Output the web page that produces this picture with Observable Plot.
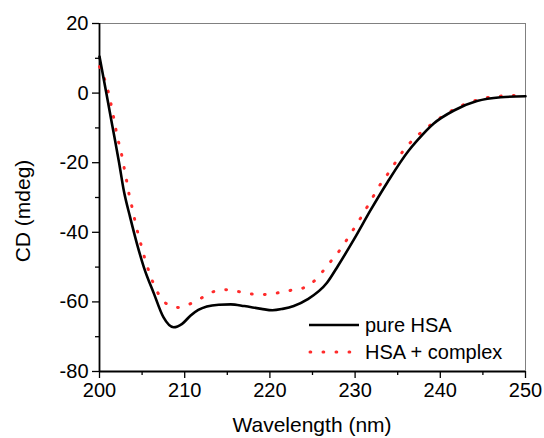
<!DOCTYPE html>
<html>
<head>
<meta charset="utf-8">
<script src="https://cdn.jsdelivr.net/npm/d3@7"></script>
<script src="https://cdn.jsdelivr.net/npm/@observablehq/plot@0.6"></script>
<style>
  html, body { margin: 0; padding: 0; background: white; }
  #chart svg { display: block; }
</style>
</head>
<body>
<div id="chart"></div>
<script>
// pure HSA
const wavelengthHSA = [200.0, 200.8, 201.5, 202.3, 202.85, 203.6, 204.4, 205.2, 206.4, 207.5, 208.7, 209.7, 210.7, 211.6, 212.6, 214.0, 215.4, 217.0, 219.0, 220.3, 221.5, 222.8, 224.4, 226.7, 228.0, 229.9, 231.8, 233.8, 236.3, 237.3, 239.2, 241.6, 244.3, 247.1, 250.0];
const cdHSA =         [10.5,  0.0,   -9.3,  -20.0, -28.0,  -35.7, -43.3, -50.0, -57.7, -64.4, -67.3, -66.3, -63.9, -62.3, -61.3, -60.8, -60.7, -61.2, -62.0, -62.4, -62.0, -61.2, -59.3, -54.5, -49.6, -41.9, -33.7, -25.6, -16.5, -13.6, -8.8,  -5.0,  -2.3,  -1.2,  -0.9];
// HSA + complex
const wavelengthComplex = [200.0, 200.8, 201.2, 201.5, 201.8, 202.1, 202.5, 202.8, 203.1, 203.4, 203.8, 204.4, 204.9, 205.3, 205.8, 206.4, 207.2, 208.5, 209.3, 210.1, 211.6, 213.2, 214.8, 216.2, 217.8, 219.3, 220.9, 222.4, 224.0, 225.5, 226.6, 227.3, 228.4, 229.4, 230.4, 231.3, 232.2, 233.1, 234.2, 235.2, 236.3, 237.7, 239.2, 240.7, 242.3, 243.8, 245.3, 246.9, 248.4, 250.0];
const cdComplex =         [7.6,   2.4,   -1.4,  -5.0,  -8.8,  -12.7, -16.5, -20.3, -24.0, -28.2, -32.6, -39.2, -43.8, -47.4, -51.2, -55.1, -58.8, -61.3, -61.6, -61.1, -59.4, -57.2, -56.5, -57.0, -57.7, -57.9, -57.4, -56.7, -55.9, -53.3, -50.0, -47.9, -44.5, -40.7, -36.9, -33.2, -29.4, -25.7, -22.0, -18.1, -14.7, -11.4, -8.5,  -6.0,  -3.8,  -2.4,  -1.4,  -0.9,  -0.7,  -0.7];

const seriesNames = ["pure HSA", "HSA + complex"];
const xTicks = [200, 210, 220, 230, 240, 250];
const xMinorTicks = [205, 215, 225, 235, 245];
const yTicks = [-80, -60, -40, -20, 0, 20];
const yMinorTicks = [-70, -50, -30, -10, 10];
const xTitle = "Wavelength (nm)";
const yTitle = "CD (mdeg)";

const hsa = wavelengthHSA.map((w, i) => ({w, cd: cdHSA[i]}));
const complex = wavelengthComplex.map((w, i) => ({w, cd: cdComplex[i]}));

const RED = "#ff2b2b";
const FONT = "'Liberation Sans', Arial, sans-serif";
const DASH = "0.8,12.2";

const plot = Plot.plot({
  width: 544,
  height: 438,
  marginLeft: 99,
  marginRight: 19,
  marginTop: 23,
  marginBottom: 67,
  style: {fontFamily: FONT, fontSize: "20px", color: "black", background: "white", overflow: "visible"},
  x: {domain: [200, 250]},
  y: {domain: [-80, 20]},
  marks: [
    Plot.ruleX([250], {stroke: "#808080", strokeWidth: 1}),
    Plot.ruleY([20], {stroke: "#808080", strokeWidth: 1}),
    Plot.axisX(xTicks, {tickSize: 7, tickPadding: 4, label: null, fontSize: 20, strokeWidth: 1.3, tickFormat: d => String(d)}),
    Plot.axisX(xMinorTicks, {tickSize: 4, text: null, label: null, strokeWidth: 1.3}),
    Plot.axisY(yTicks, {tickSize: 7, tickPadding: 4, label: null, fontSize: 20, strokeWidth: 1.3, tickFormat: d => d < 0 ? "-" + Math.abs(d) : String(d)}),
    Plot.axisY(yMinorTicks, {tickSize: 4, text: null, label: null, strokeWidth: 1.3}),
    Plot.ruleX([200], {stroke: "black", strokeWidth: 1.8}),
    Plot.ruleY([-80], {stroke: "black", strokeWidth: 1.8}),
    Plot.line(complex, {x: "w", y: "cd", stroke: RED, strokeWidth: 3, strokeDasharray: DASH, strokeLinecap: "round", curve: "monotone-x"}),
    Plot.line(hsa, {x: "w", y: "cd", stroke: "black", strokeWidth: 2.6, curve: "monotone-x"})
  ]
});

const svg = d3.select(plot);
// axis titles
svg.append("text")
  .attr("x", 312).attr("y", 432)
  .attr("text-anchor", "middle")
  .attr("font-family", FONT).attr("font-size", 21).attr("fill", "black")
  .text(xTitle);
svg.append("text")
  .attr("transform", "translate(30,211) rotate(-90)")
  .attr("text-anchor", "middle")
  .attr("font-family", FONT).attr("font-size", 21).attr("fill", "black")
  .text(yTitle);
// legend
const lg = svg.append("g").attr("text-anchor", "start");
lg.append("line").attr("x1", 309).attr("x2", 359).attr("y1", 325).attr("y2", 325)
  .attr("stroke", "black").attr("stroke-width", 2.6);
lg.append("line").attr("x1", 310).attr("x2", 359).attr("y1", 352).attr("y2", 352)
  .attr("stroke", RED).attr("stroke-width", 3).attr("stroke-dasharray", DASH).attr("stroke-linecap", "round");
lg.append("text").attr("x", 365).attr("y", 332).attr("text-anchor", "start").attr("font-family", FONT).attr("font-size", 20).attr("fill", "black").text(seriesNames[0]);
lg.append("text").attr("x", 365).attr("y", 359).attr("text-anchor", "start").attr("font-family", FONT).attr("font-size", 20).attr("fill", "black").text(seriesNames[1]);

document.getElementById("chart").appendChild(plot);
</script>
</body>
</html>
